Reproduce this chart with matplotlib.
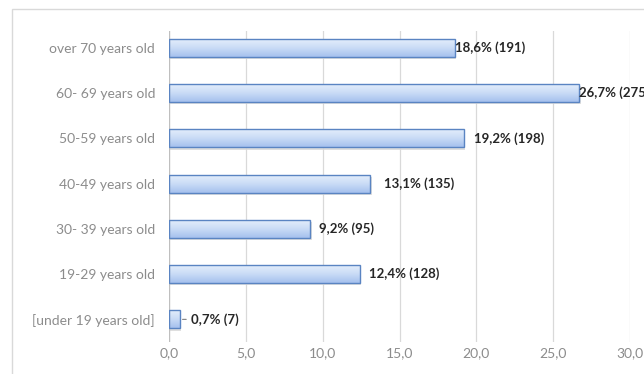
import numpy as np
import matplotlib
matplotlib.use("Agg")
import matplotlib.pyplot as plt
from matplotlib.patches import Rectangle
from matplotlib.colors import LinearSegmentedColormap

# age groups, top to bottom
groups = ["over 70 years old", "60- 69 years old", "50-59 years old", "40-49 years old",
          "30- 39 years old", "19-29 years old", "[under 19 years old]"]
percent = [18.6, 26.7, 19.2, 13.1, 9.2, 12.4, 0.7]
counts = [191, 275, 198, 135, 95, 128, 7]
xticks = [0, 5, 10, 15, 20, 25, 30]

# extra gap (points) between bar end and its label
label_pad = [0, 0, 7, 10, 6, 7, 8]

plt.rcParams['font.family'] = ['Lato', 'DejaVu Sans']

fig = plt.figure(figsize=(6.44, 3.74), dpi=100)
fig.patch.set_facecolor('white')

# light frame round the chart, running off the right and bottom edge
fig.patches.append(Rectangle((12 / 644, -0.2), 1.2, 1 - 9 / 374 + 0.2,
                             transform=fig.transFigure, fill=False,
                             edgecolor='#d9d9d9', linewidth=1.0))

ax = fig.add_axes([169 / 644, 1 - 342 / 374, (630 - 169) / 644, (342 - 31) / 374])

y = np.arange(len(groups))
bars = ax.barh(y, percent, height=0.4, color='none', edgecolor='#5a84c2',
               linewidth=1.0, zorder=3)

grad = LinearSegmentedColormap.from_list('bar', ['#e6effc', '#cbdcf6', '#a5c1ee'])
for b in bars:
    x0, y0 = b.get_x(), b.get_y()
    w, h = b.get_width(), b.get_height()
    # soft drop shadow
    ax.add_patch(Rectangle((x0 + 0.08, y0 + 0.05), w, h, facecolor='#b8b8b8',
                           edgecolor='none', alpha=0.45, zorder=1))
    im = ax.imshow(np.linspace(0, 1, 50).reshape(-1, 1), cmap=grad, aspect='auto',
                   extent=(x0, x0 + w, y0 + h, y0), zorder=2)
    im.set_clip_path(Rectangle((x0, y0), w, h, transform=ax.transData))

for i, (p, n) in enumerate(zip(percent, counts)):
    txt = f"{p:.1f}".replace('.', ',') + f"% ({n})"
    ax.annotate(txt, (p, i), xytext=(label_pad[i], 0), textcoords='offset points',
                va='center', ha='left', fontsize=9.5, fontweight='bold',
                color='#262626', annotation_clip=False, zorder=4)

# leader line for the smallest bar
ax.annotate('', (percent[6], 6), xytext=(percent[6] + 0.6, 6),
            arrowprops=dict(arrowstyle='-', color='#7f7f7f', lw=0.8))

ax.set_xlim(0, 30)
ax.set_ylim(6.5, -0.37)
ax.set_xticks(xticks)
ax.set_xticklabels([f"{t:.1f}".replace('.', ',') for t in xticks])
ax.set_yticks(y)
ax.set_yticklabels(groups)
ax.tick_params(axis='both', length=0, labelsize=10, colors='#8c8c8c')
ax.tick_params(axis='y', pad=10)
ax.tick_params(axis='x', pad=4)
ax.grid(axis='x', color='#d9d9d9', linewidth=0.9, zorder=0)
for s in ax.spines.values():
    s.set_visible(False)
ax.axvline(0, color='#bfbfbf', linewidth=0.9, zorder=2.5)

fig.savefig('out.png', dpi=100)
